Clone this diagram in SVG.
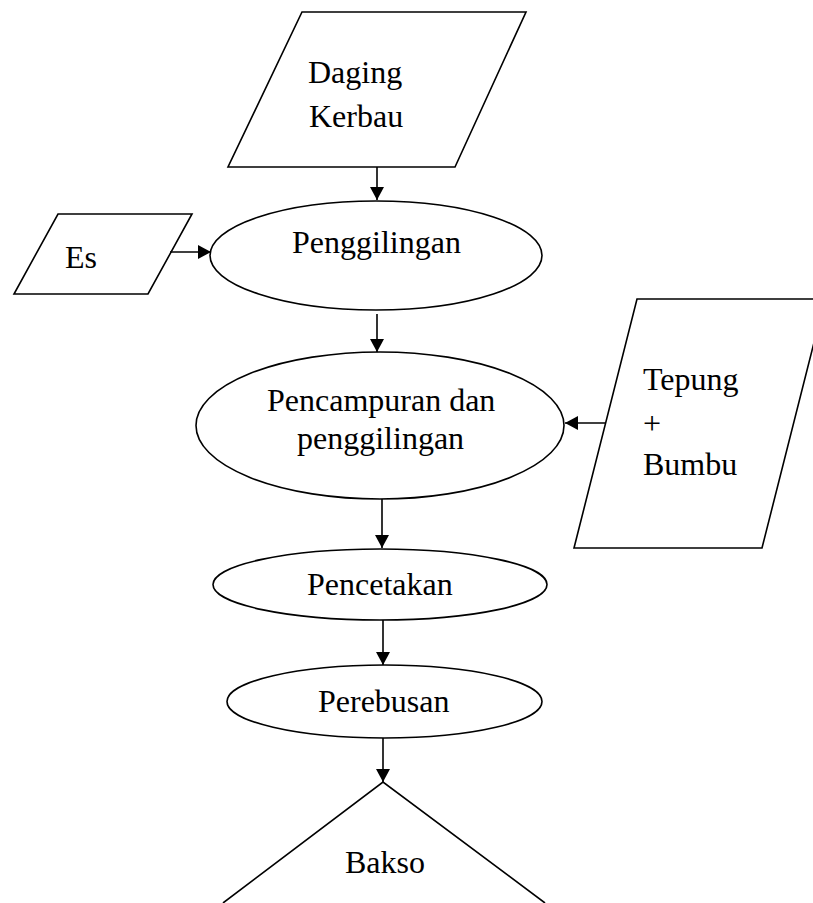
<svg xmlns="http://www.w3.org/2000/svg" width="813" height="903" viewBox="0 0 813 903">
<defs>
<style>
.s{fill:#fff;stroke:#000;stroke-width:1.6}
.c{fill:none;stroke:#000;stroke-width:1.6}
text{font-family:"Liberation Serif","Times New Roman",serif;font-size:32px;fill:#000}
</style>
<marker id="ah" markerUnits="userSpaceOnUse" markerWidth="14" markerHeight="14" refX="13" refY="7" orient="auto">
<path d="M0,0 L13,7 L0,14 z" fill="#000"/>
</marker>
</defs>
<rect width="813" height="903" fill="#fff"/>
<g id="daging">
<polygon class="s" points="302,12 526,12 455,167 228,167"/>
<text x="308" y="83">Daging</text>
<text x="309" y="127">Kerbau</text>
</g>
<g id="es">
<polygon class="s" points="58,214 192,214 148,294 14,294"/>
<text x="65" y="268">Es</text>
</g>
<g id="penggilingan">
<ellipse class="s" cx="376" cy="255.5" rx="166" ry="54.5"/>
<text x="292" y="253">Penggilingan</text>
</g>
<g id="tepung">
<polygon class="s" points="637,299 825,299 762,548 574,548"/>
<text x="643" y="390">Tepung</text>
<text x="643" y="434">+</text>
<text x="643" y="475">Bumbu</text>
</g>
<g id="pencampuran">
<ellipse class="s" cx="380" cy="425.5" rx="184" ry="73.5"/>
<text x="267" y="411">Pencampuran dan</text>
<text x="297" y="449">penggilingan</text>
</g>
<g id="pencetakan">
<ellipse class="s" cx="380" cy="584.5" rx="167" ry="35.5"/>
<text x="307" y="595">Pencetakan</text>
</g>
<g id="perebusan">
<ellipse class="s" cx="384.5" cy="701.5" rx="157.5" ry="36.5"/>
<text x="318" y="712">Perebusan</text>
</g>
<g id="bakso">
<polyline class="c" points="223,903 383,782 545,903"/>
<text x="345" y="873">Bakso</text>
</g>
<g id="connectors">
<line class="c" x1="377" y1="167" x2="377" y2="200" marker-end="url(#ah)"/>
<line class="c" x1="170" y1="252" x2="211" y2="252" marker-end="url(#ah)"/>
<line class="c" x1="377" y1="314" x2="377" y2="352" marker-end="url(#ah)"/>
<line class="c" x1="605" y1="423" x2="565" y2="423" marker-end="url(#ah)"/>
<line class="c" x1="382" y1="499" x2="382" y2="548" marker-end="url(#ah)"/>
<line class="c" x1="383" y1="620" x2="383" y2="665" marker-end="url(#ah)"/>
<line class="c" x1="383" y1="738" x2="383" y2="782" marker-end="url(#ah)"/>
</g>
</svg>
